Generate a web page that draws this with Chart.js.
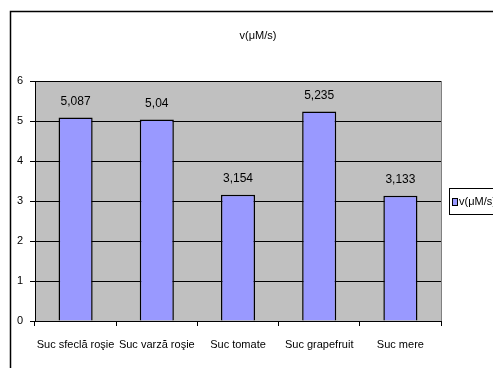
<!DOCTYPE html>
<html lang="ro">
<head>
  <meta charset="utf-8">
  <title>v(μM/s)</title>
  <style>
    * { box-sizing: border-box; margin: 0; padding: 0; }
    html, body { width: 493px; height: 368px; background: #ffffff; overflow: hidden; }
    canvas { display: block; }
  </style>
  <script src="https://cdn.jsdelivr.net/npm/chart.js"></script>
</head>
<body>
  <canvas id="chart" width="493" height="368"></canvas>
  <script>
    // data
    const categories = ['Suc sfeclă roşie', 'Suc varză roşie', 'Suc tomate', 'Suc grapefruit', 'Suc mere'];
    const rates = [5.087, 5.04, 3.154, 5.235, 3.133];
    const seriesName = 'v(μM/s)';
    const yTicks = [0, 1, 2, 3, 4, 5, 6];

    const FONT = "'Liberation Sans', Arial, sans-serif";
    const fmt = v => String(v).replace('.', ',');

    // frame, grey plot area, title, value labels and legend box
    const excelLook = {
      id: 'excelLook',
      beforeDraw(chart) {
        const { ctx, chartArea: a } = chart;
        ctx.save();
        ctx.fillStyle = '#ffffff';
        ctx.fillRect(0, 0, chart.width, chart.height);
        ctx.strokeStyle = '#000000';
        ctx.lineWidth = 1.5;
        ctx.strokeRect(10.5, 11.5, 500, 400);
        ctx.fillStyle = '#c0c0c0';
        ctx.fillRect(a.left, a.top, a.right - a.left, a.bottom - a.top);
        ctx.strokeStyle = '#808080';
        ctx.lineWidth = 1;
        ctx.strokeRect(a.left + 0.5, a.top + 0.5, a.right - a.left, a.bottom - a.top);
        ctx.restore();
      },
      afterDatasetsDraw(chart) {
        const { ctx } = chart;
        ctx.save();
        ctx.fillStyle = '#000000';
        ctx.font = '11px ' + FONT;
        ctx.textAlign = 'center';
        ctx.textBaseline = 'middle';
        ctx.fillText(seriesName, 258, 36);
        ctx.font = '12px ' + FONT;
        chart.getDatasetMeta(0).data.forEach((bar, i) => {
          ctx.fillText(fmt(rates[i]), bar.x, bar.y - 16);
        });
        // legend
        ctx.fillStyle = '#ffffff';
        ctx.fillRect(449, 188, 60, 26);
        ctx.strokeStyle = '#000000';
        ctx.lineWidth = 1;
        ctx.strokeRect(449.5, 188.5, 60, 26);
        ctx.fillStyle = '#9999ff';
        ctx.fillRect(452, 198, 5, 7);
        ctx.strokeRect(452.5, 198.5, 5, 7);
        ctx.fillStyle = '#000000';
        ctx.textAlign = 'left';
        ctx.font = '11px ' + FONT;
        ctx.fillText(seriesName, 459, 202);
        ctx.restore();
      }
    };

    new Chart(document.getElementById('chart'), {
      type: 'bar',
      data: {
        labels: categories,
        datasets: [{
          label: seriesName,
          data: rates,
          backgroundColor: '#9999ff',
          borderColor: '#000000',
          borderWidth: 1.5,
          categoryPercentage: 0.84,
          barPercentage: 0.5
        }]
      },
      options: {
        responsive: false,
        animation: false,
        devicePixelRatio: 1,
        layout: { padding: { top: 81, right: 52, left: 0, bottom: 0 } },
        plugins: { legend: { display: false }, title: { display: false }, tooltip: { enabled: false } },
        scales: {
          x: {
            grid: { offset: true, drawOnChartArea: false, color: '#000000', tickLength: 5, tickWidth: 1 },
            border: { color: '#000000', width: 1 },
            ticks: { color: '#000000', font: { family: FONT, size: 11 }, padding: 12, maxRotation: 0, autoSkip: false },
            afterFit(scale) { scale.height = 47; }
          },
          y: {
            min: 0,
            max: 6,
            afterBuildTicks(scale) { scale.ticks = yTicks.map(v => ({ value: v })); },
            grid: { color: '#000000', lineWidth: 1, tickLength: 5 },
            border: { color: '#000000', width: 1 },
            ticks: { color: '#000000', font: { family: FONT, size: 11 }, padding: 7 },
            afterFit(scale) { scale.width = 35; }
          }
        }
      },
      plugins: [excelLook]
    });
  </script>
</body>
</html>
